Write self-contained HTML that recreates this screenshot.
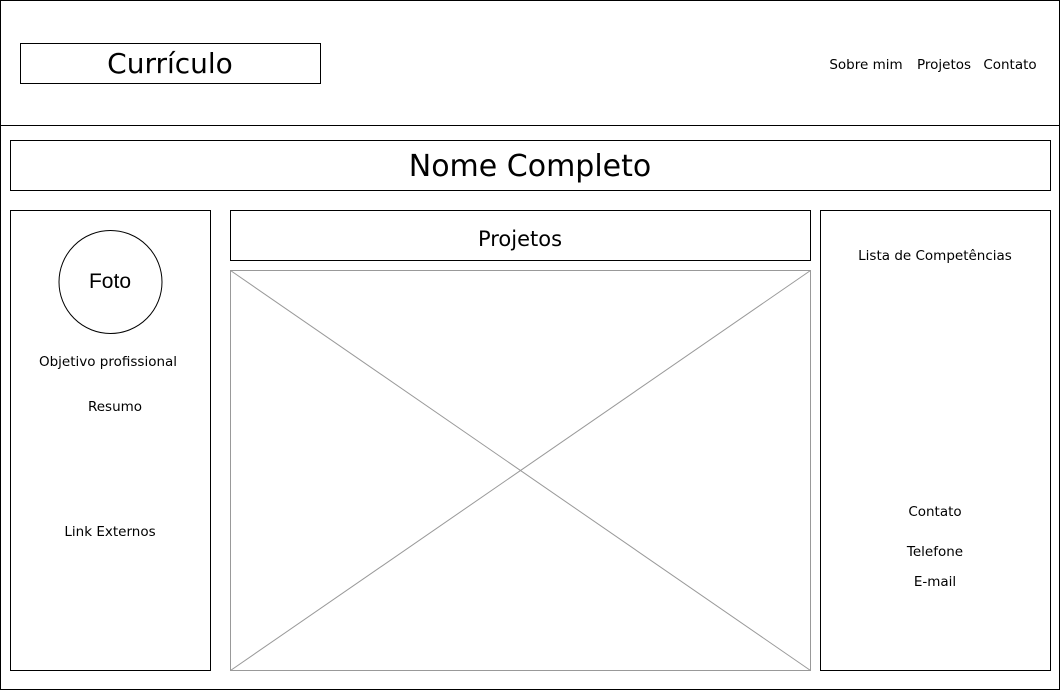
<!DOCTYPE html>
<html><head><meta charset="utf-8"><style>
html,body{margin:0;padding:0;background:#fff;}
svg{display:block;}
text{font-family:"DejaVu Sans","Liberation Sans",sans-serif;fill:#000;}
</style></head><body>
<svg width="1061" height="691" viewBox="0 0 1061 691" xmlns="http://www.w3.org/2000/svg">
<g fill="none" stroke="#000" stroke-width="1">
<rect x="0.5" y="0.5" width="1059" height="689"/>
<line x1="0" y1="125.5" x2="1060" y2="125.5"/>
<rect x="20.5" y="43.5" width="300" height="40"/>
<rect x="10.5" y="140.5" width="1040" height="50"/>
<rect x="10.5" y="210.5" width="200" height="460"/>
<rect x="230.5" y="210.5" width="580" height="50"/>
<rect x="820.5" y="210.5" width="230" height="460"/>
<circle cx="110.5" cy="282" r="51.5"/>
</g>
<g fill="none" stroke="#999" stroke-width="1">
<rect x="230.5" y="270.5" width="580" height="400"/>
<line x1="230.5" y1="270.5" x2="810.5" y2="670.5"/>
<line x1="810.5" y1="270.5" x2="230.5" y2="670.5"/>
</g>
<text x="170" y="73" font-size="28" text-anchor="middle">Currículo</text>
<text x="866" y="69" font-size="13.5" text-anchor="middle">Sobre mim</text>
<text x="944" y="69" font-size="13.5" text-anchor="middle">Projetos</text>
<text x="1010" y="69" font-size="13.5" text-anchor="middle">Contato</text>
<text x="530" y="176" font-size="30" text-anchor="middle">Nome Completo</text>
<text x="520" y="246" font-size="21" text-anchor="middle">Projetos</text>
<text x="110" y="288" font-size="21" text-anchor="middle" style="font-family:'Liberation Sans',sans-serif">Foto</text>
<text x="108" y="366" font-size="13.5" text-anchor="middle">Objetivo profissional</text>
<text x="115" y="411" font-size="13.5" text-anchor="middle">Resumo</text>
<text x="110" y="536" font-size="13.5" text-anchor="middle">Link Externos</text>
<text x="935" y="260" font-size="13.5" text-anchor="middle">Lista de Competências</text>
<text x="935" y="516" font-size="13.5" text-anchor="middle">Contato</text>
<text x="935" y="556" font-size="13.5" text-anchor="middle">Telefone</text>
<text x="935" y="586" font-size="13.5" text-anchor="middle">E-mail</text>
</svg>
</body></html>
